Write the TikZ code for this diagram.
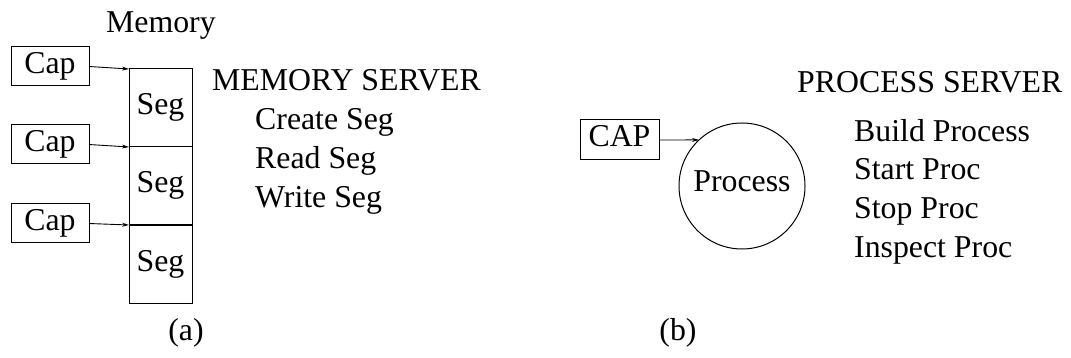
\documentclass[tikz,border=0pt]{standalone}
\usepackage{fontspec}
\setmainfont{Liberation Serif}
\usetikzlibrary{arrows.meta}
\begin{document}
\begin{tikzpicture}[x=1pt,y=-1pt,
  every node/.style={font=\fontsize{31.8}{38}\selectfont},
  capbox/.style={draw,line width=1pt,inner sep=0pt,outer sep=0pt,minimum width=78pt,minimum height=39pt,text height=21pt,text depth=7pt},
  segbox/.style={draw,line width=1pt,inner sep=0pt,outer sep=0pt,minimum width=63pt,minimum height=78pt,text height=21pt,text depth=7pt},
  lbl/.style={anchor=base west,inner sep=0pt},
  arr/.style={line width=0.9pt,-{Stealth[length=7pt,width=4pt]}}]
\useasboundingbox (0,0) rectangle (1071,358);
% (a)
\node[lbl] (memlbl) at (106,33) {Memory};
\node[capbox] (cap1) at (50,66.5) {Cap};
\node[capbox] (cap2) at (50,144.5) {Cap};
\node[capbox] (cap3) at (50,223.5) {Cap};
\node[segbox] (seg1) at (160.5,108) {Seg};
\node[segbox] (seg2) at (160.5,186) {Seg};
\node[segbox] (seg3) at (160.5,264.5) {Seg};
\draw[arr] (cap1.east) -- (seg1.north west);
\draw[arr] (cap2.east) -- (seg1.south west);
\draw[arr] (cap3.east) -- (seg2.south west);
\node[lbl] (ms) at (212,91) {MEMORY SERVER};
\node[lbl] (m1) at (255,130) {Create Seg};
\node[lbl] (m2) at (255,169) {Read Seg};
\node[lbl] (m3) at (255,208) {Write Seg};
\node[anchor=base,inner sep=0pt] (la) at (186,340) {(a)};
% (b)
\node[capbox,minimum width=79pt,minimum height=40pt] (cap) at (619.5,140) {CAP};
\node[circle,draw,line width=1pt,minimum size=126pt,inner sep=0pt,outer sep=0pt] (proc) at (742,186) {};
\node[anchor=base,inner sep=0pt] (proctxt) at (742,192) {Process};
\draw[arr] (cap.east) -- (proc.133.1);
\node[lbl] (ps) at (797,93) {PROCESS SERVER};
\node[lbl] (p1) at (854,142) {Build Process};
\node[lbl] (p2) at (854,180) {Start Proc};
\node[lbl] (p3) at (854,219) {Stop Proc};
\node[lbl] (p4) at (854,258) {Inspect Proc};
\node[anchor=base,inner sep=0pt] (lb) at (678,340) {(b)};
\end{tikzpicture}
\end{document}
